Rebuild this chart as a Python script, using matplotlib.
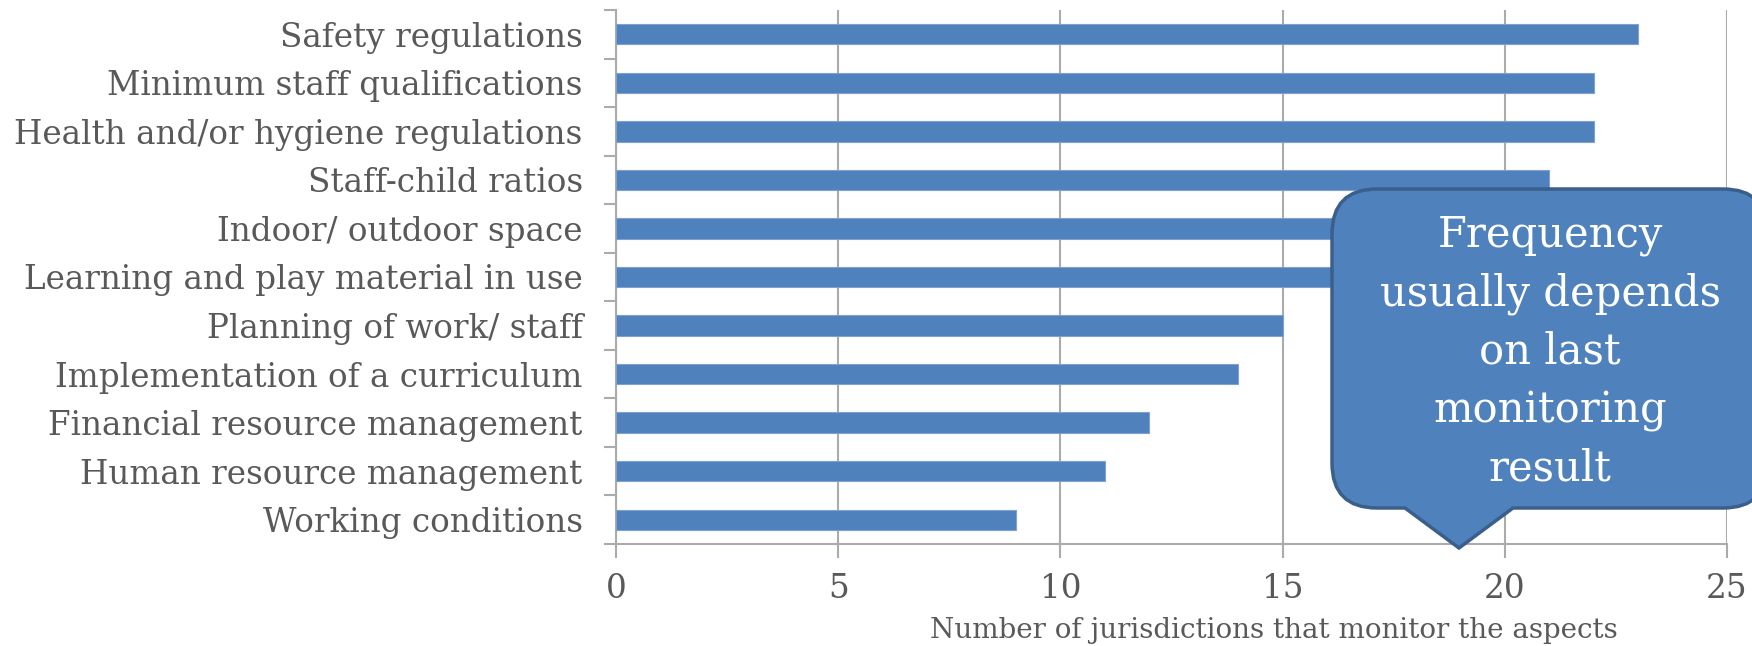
import matplotlib

matplotlib.use("Agg")
import matplotlib.pyplot as plt
from matplotlib.patches import PathPatch
from matplotlib.path import Path
from matplotlib.transforms import Affine2D

# === Data ===
aspects = [
    "Safety regulations",
    "Minimum staff qualifications",
    "Health and/or hygiene regulations",
    "Staff-child ratios",
    "Indoor/ outdoor space",
    "Learning and play material in use",
    "Planning of work/ staff",
    "Implementation of a curriculum",
    "Financial resource management",
    "Human resource management",
    "Working conditions",
]
jurisdictions = [23, 22, 22, 21, 19, 18, 15, 14, 12, 11, 9]
x_ticks = [0, 5, 10, 15, 20, 25]
callout_text = "Frequency\nusually depends\non last\nmonitoring\nresult"
x_label = "Number of jurisdictions that monitor the aspects"

# === Style ===
W, H = 1752, 646
bar_color = "#4F81BD"
edge_blue = "#3A5F8B"
text_gray = "#595959"
grid_gray = "#ABABAB"
serif = ["DejaVu Serif"]

plt.rcParams["font.family"] = serif

fig = plt.figure(figsize=(W / 100, H / 100), dpi=100)
ax = fig.add_axes([616 / W, 1 - 544 / H, (1727 - 616) / W, (544 - 10) / H])

ypos = list(range(len(aspects)))
ax.barh(ypos, jurisdictions, height=0.42, color=bar_color,
        edgecolor="#7EA1D0", linewidth=0.8, zorder=3)

ax.set_xlim(0, 25)
ax.set_ylim(len(aspects) - 0.5, -0.5)
ax.set_xticks(x_ticks)
ax.set_xticklabels([str(t) for t in x_ticks])

# category labels, with tick marks between the categories
ax.set_yticks(ypos)
ax.set_yticklabels(aspects)
ax.set_yticks([i - 0.5 for i in range(len(aspects) + 1)], minor=True)
ax.tick_params(axis="y", which="major", length=0, pad=24,
               labelsize=23.5, labelcolor=text_gray)
ax.tick_params(axis="y", which="minor", length=9, width=1.5, color=grid_gray)
ax.tick_params(axis="x", length=10, width=1.5, color=grid_gray,
               labelsize=23.5, labelcolor=text_gray, pad=11)

ax.grid(axis="x", color=grid_gray, linewidth=1.5, zorder=0)
for side in ["top", "right"]:
    ax.spines[side].set_visible(False)
for side in ["left", "bottom"]:
    ax.spines[side].set_color(grid_gray)
    ax.spines[side].set_linewidth(1.5)

fig.text(1274 / W, 1 - 630 / H, x_label, ha="center", va="center",
         fontsize=20, color=text_gray)

# === Speech-bubble callout (pixel coords, y down) ===
x0, x1, y0, y1, r = 1332, 1768, 189, 508, 45
base_l, base_r, tip = 1405, 1513, (1459, 548)
verts = [
    (x0 + r, y0), (x1 - r, y0), (x1, y0), (x1, y0 + r),
    (x1, y1 - r), (x1, y1), (x1 - r, y1),
    (base_r, y1), tip, (base_l, y1),
    (x0 + r, y1), (x0, y1), (x0, y1 - r),
    (x0, y0 + r), (x0, y0), (x0 + r, y0), (x0 + r, y0),
]
codes = [
    Path.MOVETO, Path.LINETO, Path.CURVE3, Path.CURVE3,
    Path.LINETO, Path.CURVE3, Path.CURVE3,
    Path.LINETO, Path.LINETO, Path.LINETO,
    Path.LINETO, Path.CURVE3, Path.CURVE3,
    Path.LINETO, Path.CURVE3, Path.CURVE3, Path.CLOSEPOLY,
]
px_to_fig = Affine2D().scale(1 / W, -1 / H).translate(0, 1) + fig.transFigure
bubble = PathPatch(Path(verts, codes), facecolor=bar_color, edgecolor=edge_blue,
                   linewidth=2.5, transform=px_to_fig, zorder=10, clip_on=False)
fig.patches.append(bubble)

fig.text(1550 / W, 1 - 352 / H, callout_text, ha="center", va="center",
         fontsize=30, color="white", linespacing=1.49, zorder=11)

fig.savefig("out.png", dpi=100)
